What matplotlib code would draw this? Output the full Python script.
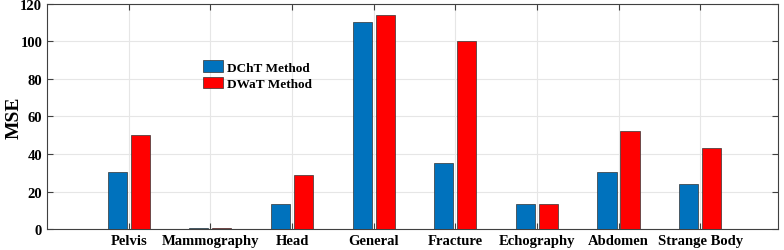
import matplotlib.pyplot as plt
import numpy as np

plt.rcParams['font.family'] = ['Liberation Serif', 'DejaVu Serif']
plt.rcParams['font.weight'] = 'bold'

categories = ['Pelvis', 'Mammography', 'Head', 'General', 'Fracture',
              'Echography', 'Abdomen', 'Strange Body']
dcht = [30.5, 0.5, 13.5, 110, 35.5, 13.5, 30.5, 24]
dwat = [50, 0.8, 29, 114, 100, 13.5, 52.5, 43]

fig = plt.figure(figsize=(7.84, 2.51), dpi=100)
ax = fig.add_axes([0.06, 0.082, 0.932, 0.9])

x = np.arange(1, len(categories) + 1)
w = 0.235
ax.bar(x - 0.141, dcht, w, color='#0072BD', edgecolor='#333333', linewidth=0.5,
       label='DChT Method', zorder=3)
ax.bar(x + 0.141, dwat, w, color='#FF0000', edgecolor='#333333', linewidth=0.5,
       label='DWaT Method', zorder=3)

ax.set_xlim(0, 8.95)
ax.set_ylim(0, 120)
ax.set_xticks(x)
ax.set_xticklabels(categories, fontsize=10.5, fontweight='bold')
ax.set_yticks(np.arange(0, 121, 20))
ax.tick_params(axis='y', labelsize=10.5)
ax.set_ylabel('MSE', fontsize=14, fontweight='bold')
ax.yaxis.set_label_coords(-0.034, 0.5)

ax.grid(True, color='#e6e6e6', linewidth=0.8, zorder=0)
ax.tick_params(direction='in', top=True, right=True, length=4, color='#404040', width=0.8)
for s in ax.spines.values():
    s.set_color('#404040')
    s.set_linewidth(0.8)

leg = ax.legend(loc='upper left', bbox_to_anchor=(0.259, 0.755), bbox_transform=fig.transFigure,
                frameon=False, fontsize=9.5, handlelength=1.5, handleheight=1.0,
                handletextpad=0.3, labelspacing=0.2, borderaxespad=0, borderpad=0)
for t in leg.get_texts():
    t.set_fontweight('bold')

fig.savefig('out.png', dpi=100)
